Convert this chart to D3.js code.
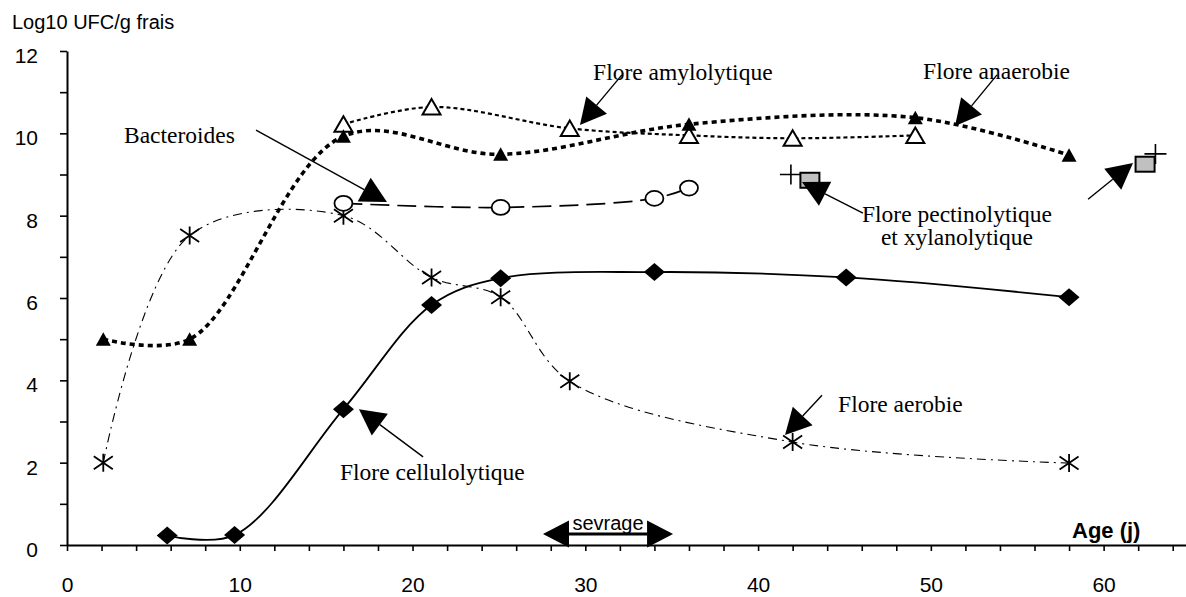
<!DOCTYPE html>
<html><head><meta charset="utf-8">
<script src="https://cdn.jsdelivr.net/npm/d3@7"></script>
<style>body{margin:0;background:#fff} svg{display:block}</style>
</head><body><svg id="c" width="1186" height="597"></svg>
<script>
// ---- data ----
const xMajorTicks = [0,10,20,30,40,50,60];
const xMinorTicks = [2,4,6,8,12,14,16,18,22,24,26,28,32,34,36,38,42,44,46,48,52,54,56,58,62,64];
const yMajorTicks = [0,2,4,6,8,10,12];
const yMinorTicks = [1,3,5,7,9,11];

const anaerobieX = [2.1,7.1,16,25.1,36,49.1,58];
const anaerobieY = [5.0,5.0,9.93,9.49,10.22,10.38,9.47];
const amyloX = [16,21.1,29.1,36,42,49.1];
const amyloY = [10.22,10.64,10.12,9.95,9.88,9.95];
const bactX = [16,25.1,34,36];
const bactY = [8.3,8.2,8.42,8.67];
const aerobieX = [2.1,7.1,16,21.1,25.1,29.1,42,58];
const aerobieY = [2.0,7.52,8.0,6.5,6.02,3.98,2.5,1.99];
const celluloX = [5.8,9.7,16,21.1,25.1,34,45.1,58];
const celluloY = [0.23,0.24,3.3,5.83,6.48,6.63,6.5,6.02];
const pectX = [43.0,62.4];
const pectY = [8.86,9.25];
const xylX = [41.9,63.0];
const xylY = [9.0,9.5];

const labelTexts = ["Bacteroides","Flore amylolytique","Flore anaerobie","Flore pectinolytique","et xylanolytique","Flore aerobie","Flore cellulolytique"];
const labelX = [3.30,30.45,49.55,51.51,51.51,44.63,15.80];
const labelY = [9.76,11.29,11.32,7.85,7.29,3.23,1.58];
const labelAnchor = ["start","start","start","middle","middle","start","start"];

const arrowStartX = [10.94,32.12,53.83,46.07,59.10,20.61,43.70];
const arrowStartY = [10.08,11.42,11.42,8.06,8.40,2.14,3.64];
const arrowTipX = [18.52,29.69,51.40,42.54,61.70,16.90,41.56];
const arrowTipY = [8.33,10.20,10.18,8.82,9.28,3.30,2.67];

const sevrageFrom = 27.55, sevrageTo = 35.08, sevrageLevel = 0.27;

// ---- setup ----
const svg = d3.select("#c");
const x = d3.scaleLinear().domain([0,65]).range([67,1190]);
const y = d3.scaleLinear().domain([0,12]).range([545,51]);
const SANS = "'Liberation Sans', Arial, sans-serif";
const SERIF = "'Liberation Serif', 'Times New Roman', serif";

// axes
const gx = svg.append("g").attr("transform","translate(0,545)");
gx.call(d3.axisBottom(x).tickValues(xMajorTicks).tickSize(6).tickPadding(26).tickSizeOuter(0));
gx.append("g").call(d3.axisBottom(x).tickValues(xMinorTicks).tickSize(6).tickFormat("").tickSizeOuter(0))
  .select(".domain").remove();
gx.selectAll("text").attr("font-family",SANS).attr("font-size",21).attr("fill","#000");
gx.selectAll("line").attr("stroke","#000").attr("stroke-width",1.6);
gx.select(".domain").attr("stroke","#000").attr("stroke-width",2);

const gy = svg.append("g").attr("transform","translate(67,0)");
gy.call(d3.axisLeft(y).tickValues(yMajorTicks).tickSize(7).tickPadding(22).tickSizeOuter(0));
gy.append("g").call(d3.axisLeft(y).tickValues(yMinorTicks).tickSize(7).tickFormat("").tickSizeOuter(0))
  .select(".domain").remove();
gy.selectAll("text").attr("font-family",SANS).attr("font-size",21).attr("fill","#000").attr("dy","0.55em");
gy.selectAll("line").attr("stroke","#000").attr("stroke-width",1.6);
gy.select(".domain").attr("stroke","#000").attr("stroke-width",2);

svg.append("text").attr("x",12).attr("y",29).attr("font-family",SANS).attr("font-size",20)
  .text("Log10 UFC/g frais");
svg.append("text").attr("x",1072).attr("y",538).attr("font-family",SANS).attr("font-size",22)
  .attr("font-weight","bold").text("Age (j)");

// lines
const curve = d3.line().x(d=>x(d[0])).y(d=>y(d[1])).curve(d3.curveCatmullRom.alpha(0.5));
function pts(xs,ys){ return xs.map((v,i)=>[v,ys[i]]); }
function drawLine(xs,ys,w,dash){
  svg.append("path").attr("d",curve(pts(xs,ys))).attr("fill","none").attr("stroke","#000")
    .attr("stroke-width",w).attr("stroke-dasharray",dash);
}
drawLine(aerobieX,aerobieY,1.1,"9,5,2,5");
drawLine(celluloX,celluloY,1.8,null);
drawLine(bactX,bactY,1.7,"19,8");
drawLine(amyloX,amyloY,2.2,"4,3");
drawLine(anaerobieX,anaerobieY,3.6,"5,4");

// markers
function markers(xs,ys,fn){
  const g = svg.append("g");
  pts(xs,ys).forEach(p=>fn(g.append("g").attr("transform",`translate(${x(p[0])},${y(p[1])})`)));
}
markers(celluloX,celluloY,g=>g.append("path").attr("d","M0,-9 L10.5,0 L0,9 L-10.5,0Z").attr("fill","#000"));
markers(aerobieX,aerobieY,g=>g.append("path").attr("d","M-9.5,-6.5L9.5,6.5M-9.5,6.5L9.5,-6.5M0,-9L0,9")
  .attr("stroke","#000").attr("stroke-width",1.8).attr("fill","none"));
markers(bactX,bactY,g=>g.append("ellipse").attr("rx",9).attr("ry",7.5).attr("fill","#fff")
  .attr("stroke","#000").attr("stroke-width",1.8));
markers(amyloX,amyloY,g=>g.append("path").attr("d","M0,-8L9,7.5L-9,7.5Z").attr("fill","#fff")
  .attr("stroke","#000").attr("stroke-width",2));
markers(anaerobieX,anaerobieY,g=>g.append("path").attr("d","M0,-7L7.5,6.5L-7.5,6.5Z").attr("fill","#000"));
markers(xylX,xylY,g=>g.append("path").attr("d","M-11,0L11,0M0,-10L0,10").attr("stroke","#000").attr("stroke-width",1.6));
markers(pectX,pectY,g=>g.append("rect").attr("x",-9.5).attr("y",-7.5).attr("width",19).attr("height",15)
  .attr("fill","#c0c0c0").attr("stroke","#000").attr("stroke-width",2));

// annotation texts
labelTexts.forEach((t,i)=>{
  svg.append("text").attr("x",x(labelX[i])).attr("y",y(labelY[i])).attr("text-anchor",labelAnchor[i])
    .attr("font-family",SERIF).attr("font-size",23.5).attr("fill","#000").text(t);
});

// arrows
const HL = 26, HW = 13.5;
arrowStartX.forEach((_,i)=>{
  const sx=x(arrowStartX[i]), sy=y(arrowStartY[i]), tx=x(arrowTipX[i]), ty=y(arrowTipY[i]);
  const L=Math.hypot(tx-sx,ty-sy), ux=(tx-sx)/L, uy=(ty-sy)/L;
  const bx=tx-HL*ux, by=ty-HL*uy, nx=-uy, ny=ux;
  svg.append("line").attr("x1",sx).attr("y1",sy).attr("x2",bx).attr("y2",by)
    .attr("stroke","#000").attr("stroke-width",1.4);
  svg.append("path").attr("d",`M${tx},${ty}L${bx+HW*nx},${by+HW*ny}L${bx-HW*nx},${by-HW*ny}Z`).attr("fill","#000");
});

// sevrage double arrow
{
  const a=x(sevrageFrom), b=x(sevrageTo), yy=y(sevrageLevel);
  svg.append("line").attr("x1",a+HL).attr("x2",b-HL).attr("y1",yy).attr("y2",yy)
    .attr("stroke","#000").attr("stroke-width",3);
  svg.append("path").attr("d",`M${a},${yy}L${a+HL},${yy-HW}L${a+HL},${yy+HW}Z`).attr("fill","#000");
  svg.append("path").attr("d",`M${b},${yy}L${b-HL},${yy-HW}L${b-HL},${yy+HW}Z`).attr("fill","#000");
  svg.append("text").attr("x",(a+b)/2).attr("y",yy-4).attr("text-anchor","middle")
    .attr("font-family",SANS).attr("font-size",20).text("sevrage");
}
</script></body></html>
